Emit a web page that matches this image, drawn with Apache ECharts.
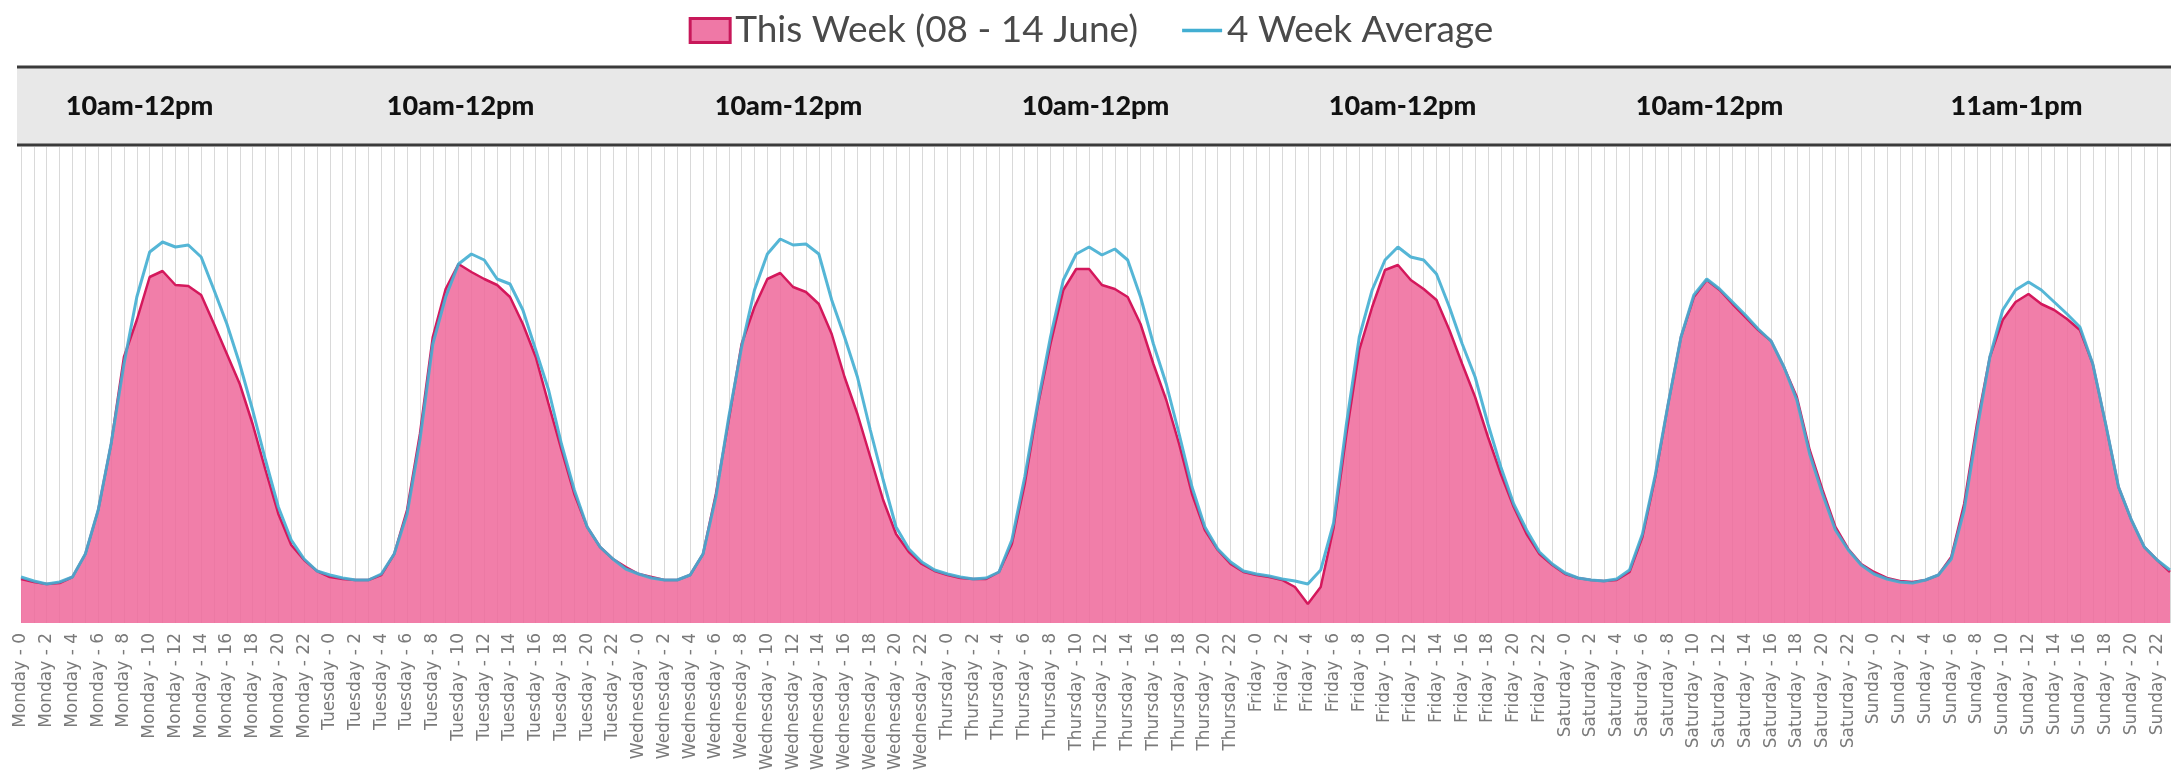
<!DOCTYPE html>
<html>
<head>
<meta charset="utf-8">
<title>This Week vs 4 Week Average</title>
<script src="https://cdn.jsdelivr.net/npm/echarts@6/dist/echarts.min.js"></script>
<style>
  html, body { margin: 0; padding: 0; background: #fff; }
  #chart { width: 2182px; height: 778px; }
</style>
</head>
<body>
<div id="chart"></div>
<script>
// day names used to build the hourly category labels
const days = ['Monday', 'Tuesday', 'Wednesday', 'Thursday', 'Friday', 'Saturday', 'Sunday'];
const hours = [0, 1, 2, 3, 4, 5, 6, 7, 8, 9, 10, 11, 12, 13, 14, 15, 16, 17, 18, 19, 20, 21, 22, 23];

// busiest window of each day, shown in the grey band
const peakTimes = ['10am-12pm', '10am-12pm', '10am-12pm', '10am-12pm', '10am-12pm', '10am-12pm', '11am-1pm'];

// this week, hourly, Monday 0 .. Sunday 23
const thisWeek = [
  44, 41, 39, 40, 46, 69, 113, 179, 266, 303, 346, 352, 338, 337, 328, 299, 269, 239, 199, 153, 109, 78, 63, 52,
  46, 44, 43, 43, 48, 69, 113, 189, 286, 334, 359, 351, 344, 338, 326, 299, 266, 219, 173, 129, 96, 76, 64, 56,
  49, 46, 43, 43, 48, 69, 129, 203, 279, 316, 344, 350, 336, 331, 319, 289, 246, 209, 166, 123, 89, 71, 59, 52,
  48, 45, 44, 44, 51, 79, 139, 216, 279, 333, 354, 354, 338, 334, 326, 299, 259, 223, 179, 129, 93, 73, 59, 51,
  48, 46, 43, 36, 19, 36, 95, 189, 273, 316, 353, 358, 343, 334, 323, 293, 259, 226, 186, 149, 116, 89, 69, 58,
  49, 45, 43, 42, 43, 51, 86, 146, 219, 286, 326, 343, 333, 319, 306, 293, 282, 256, 226, 173, 133, 96, 74, 59,
  51, 45, 42, 41, 43, 48, 66, 119, 199, 266, 303, 321, 329, 319, 313, 304, 293, 259, 199, 136, 103, 76, 63, 51
];

// 4 week average, same hours
const avg4Week = [
  46, 42, 39, 41, 46, 69, 113, 179, 259, 326, 371, 381, 376, 378, 366, 333, 299, 259, 213, 163, 116, 83, 64, 52,
  48, 45, 43, 43, 49, 69, 109, 183, 279, 326, 359, 369, 363, 344, 339, 313, 273, 233, 179, 133, 96, 76, 64, 54,
  49, 45, 43, 43, 48, 69, 126, 206, 276, 333, 369, 384, 378, 379, 369, 323, 286, 246, 193, 143, 96, 74, 61, 53,
  49, 46, 44, 45, 51, 83, 146, 219, 286, 343, 369, 376, 368, 374, 363, 326, 279, 239, 189, 136, 96, 74, 61, 52,
  49, 47, 44, 42, 39, 53, 100, 199, 286, 333, 363, 376, 366, 363, 349, 316, 279, 246, 199, 156, 119, 93, 71, 59,
  50, 45, 43, 42, 44, 53, 89, 148, 219, 286, 328, 344, 334, 321, 308, 294, 282, 256, 223, 169, 129, 93, 73, 58,
  49, 44, 41, 40, 43, 48, 64, 113, 193, 266, 313, 333, 341, 333, 321, 309, 296, 259, 199, 136, 103, 76, 63, 53
];

const categories = [];
days.forEach(d => hours.forEach(h => categories.push(d + ' - ' + h)));

// the first two band labels sit a little left of the day centre in the original
const bandShift = [70, 42, 0, 0, 0, 0, 0];
const bandLabels = peakTimes.map((t, i) => ({
  value: t,
  textStyle: { padding: [0, bandShift[i], 0, 0] }
}));

const chart = echarts.init(document.getElementById('chart'));

const option = {
  animation: false,
  backgroundColor: '#ffffff',
  legend: {
    top: 7,
    left: 'center',
    itemWidth: 40,
    itemHeight: 24,
    itemGap: 44,
    textStyle: { fontFamily: 'Lato', fontSize: 37, color: '#4a4a4a' },
    data: [
      {
        name: 'This Week (08 - 14 June)',
        icon: 'rect',
        itemStyle: { color: '#ef78a6', borderColor: '#c8185a', borderWidth: 3 }
      },
      {
        name: '4 Week Average',
        icon: 'path://M0,0 L40,0 L40,3.5 L0,3.5 Z',
        itemStyle: { color: '#42aed2' }
      }
    ]
  },
  graphic: [
    {
      type: 'rect',
      z: -10,
      shape: { x: 17, y: 67, width: 2154, height: 78 },
      style: { fill: '#e8e8e8' }
    },
    {
      type: 'line',
      z: -9,
      shape: { x1: 17, y1: 67, x2: 2171, y2: 67 },
      style: { stroke: '#3a3a3a', lineWidth: 3 }
    },
    {
      type: 'line',
      z: -9,
      shape: { x1: 17, y1: 145, x2: 2171, y2: 145 },
      style: { stroke: '#3a3a3a', lineWidth: 3 }
    }
  ],
  grid: { left: 21, right: 12, top: 147, bottom: 155, containLabel: false },
  xAxis: [
    {
      type: 'category',
      data: categories,
      boundaryGap: false,
      axisLine: { show: false },
      axisTick: { show: false },
      axisLabel: {
        interval: 1,
        rotate: 90,
        margin: 10,
        fontFamily: 'DejaVu Sans',
        fontSize: 17,
        color: '#7a7a7a'
      },
      splitLine: { show: true, interval: 0, lineStyle: { color: '#d9d9d9', width: 1 } }
    },
    {
      type: 'category',
      position: 'top',
      data: bandLabels,
      boundaryGap: true,
      axisLine: { show: false },
      axisTick: { show: false },
      splitLine: { show: false },
      axisLabel: {
        margin: 27,
        fontFamily: 'Lato',
        fontWeight: 900,
        fontSize: 27,
        color: '#111111'
      }
    }
  ],
  yAxis: {
    type: 'value',
    min: 0,
    max: 476,
    show: false,
    splitLine: { show: false }
  },
  series: [
    {
      name: 'This Week (08 - 14 June)',
      type: 'line',
      data: thisWeek,
      symbol: 'none',
      lineStyle: { color: '#d4185c', width: 2.5 },
      itemStyle: { color: '#d4185c' },
      areaStyle: { color: '#ee679a', opacity: 0.85 },
      z: 2
    },
    {
      name: '4 Week Average',
      type: 'line',
      data: avg4Week,
      symbol: 'none',
      lineStyle: { color: '#42aed2', width: 3, opacity: 0.9 },
      itemStyle: { color: '#42aed2' },
      z: 3
    }
  ]
};

chart.setOption(option);
</script>
</body>
</html>
